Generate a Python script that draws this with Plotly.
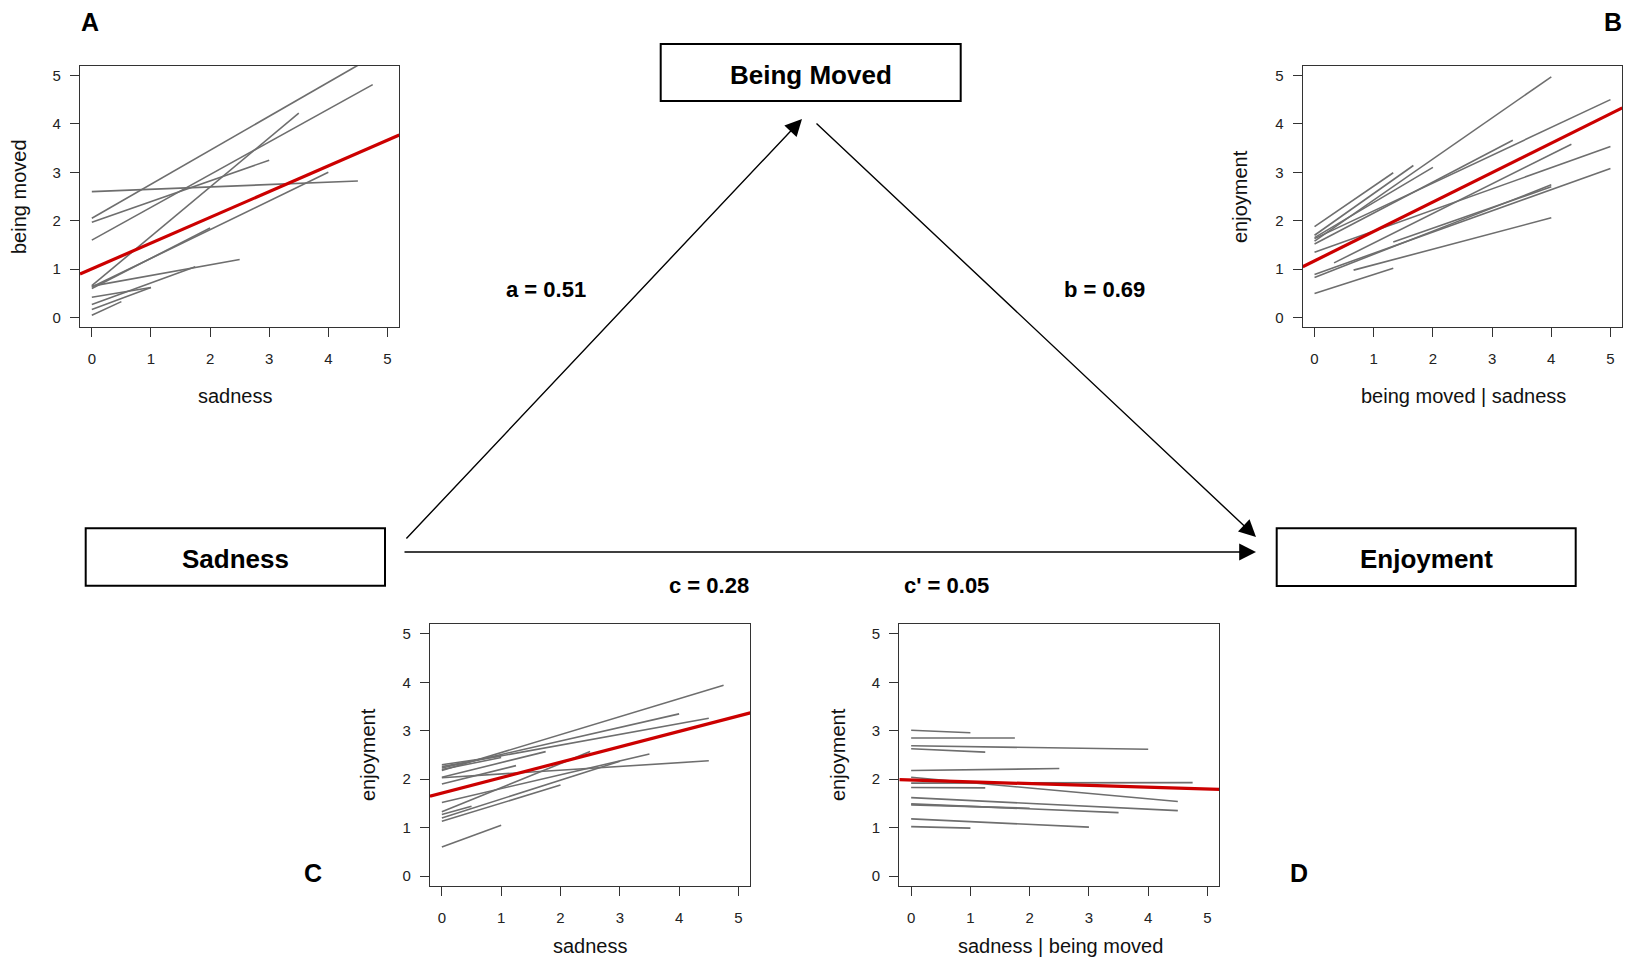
import plotly.graph_objects as go

W, H = 1625, 960
FONT = "Liberation Sans, Arial, Helvetica, sans-serif"

# ---------------- data (segments: x_start, y_start, x_end, y_end) ----------------
a_x0 = [0, 0, 0, 0, 0, 0, 0, 0, 0, 0, 0, 0]
a_y0 = [0.05, 0.17, 0.27, 0.42, 0.65, 0.60, 0.63, 0.66, 2.05, 1.60, 1.97, 2.60]
a_x1 = [0.5, 1.0, 1.75, 1.0, 2.5, 2.0, 4.0, 3.5, 4.5, 4.75, 3.0, 4.5]
a_y1 = [0.33, 0.62, 1.05, 0.62, 1.20, 1.85, 3.00, 4.22, 5.21, 4.81, 3.25, 2.82]
a_red_x = [-0.2, 5.2]
a_red_y = [0.90, 3.77]

b_x0 = [0, 0.66, 0, 0, 1.33, 0.33, 0, 0, 0, 0, 0, 0, 0]
b_y0 = [0.50, 0.98, 0.83, 0.89, 1.56, 1.13, 1.35, 1.52, 1.63, 1.58, 1.65, 1.70, 1.88]
b_x1 = [1.33, 4.0, 4.0, 5.0, 4.0, 4.34, 5.0, 3.35, 5.0, 4.0, 2.0, 1.67, 1.33]
b_y1 = [1.02, 2.06, 2.74, 3.08, 2.70, 3.58, 3.53, 3.66, 4.50, 4.97, 3.10, 3.14, 2.99]
b_red_x = [-0.2, 5.2]
b_red_y = [1.05, 4.33]

c_x0 = [0, 0, 0, 0, 0, 0, 0, 0, 0, 0, 0, 0, 0, 0]
c_y0 = [0.60, 1.13, 1.20, 1.27, 1.33, 1.52, 1.90, 2.03, 2.04, 2.18, 2.23, 2.26, 2.30, 2.20]
c_x1 = [1.0, 2.0, 3.0, 0.5, 2.5, 3.5, 1.25, 4.5, 1.75, 4.75, 4.0, 4.5, 1.0, 1.0]
c_y1 = [1.05, 1.88, 2.37, 1.44, 2.57, 2.52, 2.28, 2.38, 2.57, 3.94, 3.35, 3.26, 2.48, 2.45]
c_red_x = [-0.2, 5.2]
c_red_y = [1.65, 3.37]

d_x0 = [0, 0, 0, 0, 0, 0, 0, 0, 0, 0, 0, 0, 0]
d_y0 = [3.01, 2.85, 2.69, 2.63, 2.18, 1.92, 2.04, 1.83, 1.62, 1.49, 1.47, 1.18, 1.02]
d_x1 = [1.0, 1.75, 4.0, 1.25, 2.5, 4.75, 4.5, 1.25, 4.5, 3.5, 2.0, 3.0, 1.0]
d_y1 = [2.96, 2.85, 2.62, 2.56, 2.22, 1.93, 1.54, 1.82, 1.35, 1.31, 1.40, 1.01, 0.99]
d_red_x = [-0.2, 5.2]
d_red_y = [1.99, 1.79]

tick_vals = [0, 1, 2, 3, 4, 5]
tick_text = ["0", "1", "2", "3", "4", "5"]

path_coefs = ["a = 0.51", "b = 0.69", "c = 0.28", "c' = 0.05"]
node_names = ["Being Moved", "Sadness", "Enjoyment"]
panel_letters = ["A", "B", "C", "D"]
x_titles = ["sadness", "being moved | sadness", "sadness", "sadness | being moved"]
y_titles = ["being moved", "enjoyment", "enjoyment", "enjoyment"]

# ---------------- helpers ----------------
def fx(px):
    return px / W

def fy(py):
    return 1 - py / H

fig = go.Figure()

panels = [
    (a_x0, a_y0, a_x1, a_y1, a_red_x, a_red_y),
    (b_x0, b_y0, b_x1, b_y1, b_red_x, b_red_y),
    (c_x0, c_y0, c_x1, c_y1, c_red_x, c_red_y),
    (d_x0, d_y0, d_x1, d_y1, d_red_x, d_red_y),
]
# pixel boxes (left, right, top, bottom)
boxes = [
    (80, 399.3, 65.7, 327.3),
    (1302.7, 1622.3, 65.7, 327.3),
    (430, 750.3, 624.3, 885.7),
    (899.3, 1219.3, 624.3, 885.7),
]

for i, (x0, y0, x1, y1, rx, ry) in enumerate(panels):
    xs, ys = [], []
    for a, b, c, d in zip(x0, y0, x1, y1):
        xs += [a, c, None]
        ys += [b, d, None]
    sfx = "" if i == 0 else str(i + 1)
    fig.add_trace(go.Scatter(x=xs, y=ys, mode="lines",
                             line=dict(color="#6e6e6e", width=1.6),
                             xaxis="x" + sfx, yaxis="y" + sfx,
                             showlegend=False, hoverinfo="skip"))
    fig.add_trace(go.Scatter(x=rx, y=ry, mode="lines",
                             line=dict(color="#cc0000", width=3.2),
                             xaxis="x" + sfx, yaxis="y" + sfx,
                             showlegend=False, hoverinfo="skip"))
    l, r, t, b_ = boxes[i]
    axcommon = dict(range=[-0.2, 5.2], tickvals=tick_vals, ticktext=tick_text,
                    showgrid=False, zeroline=False, showline=True, mirror=True,
                    linecolor="#333333", linewidth=1.2, ticks="outside", ticklen=9,
                    tickcolor="#333333", tickwidth=1.2,
                    tickfont=dict(family=FONT, size=15, color="#222222"))
    fig.update_layout(**{
        "xaxis" + sfx: dict(domain=[fx(l), fx(r)], anchor="y" + sfx,
                            ticklabelstandoff=9, **axcommon),
        "yaxis" + sfx: dict(domain=[fy(b_), fy(t)], anchor="x" + sfx,
                            ticklabelstandoff=6, **axcommon),
    })

annotations = []
shapes = []

# axis titles (pixel centers)
xt_pos = [(235.5, 396), (1463, 396), (590, 946), (1060, 946)]
yt_pos = [(19, 197), (1240, 197), (368, 755), (838, 755)]
for i in range(4):
    annotations.append(dict(x=fx(xt_pos[i][0]), y=fy(xt_pos[i][1]), xref="paper", yref="paper",
                            text=x_titles[i], showarrow=False, xanchor="center", yanchor="middle",
                            font=dict(family=FONT, size=20, color="#111111")))
    annotations.append(dict(x=fx(yt_pos[i][0]), y=fy(yt_pos[i][1]), xref="paper", yref="paper",
                            text=y_titles[i], showarrow=False, xanchor="center", yanchor="middle",
                            textangle=-90,
                            font=dict(family=FONT, size=20, color="#111111")))

# panel letters
letter_pos = [(90, 22), (1613, 22), (313, 873), (1299, 873)]
for i in range(4):
    annotations.append(dict(x=fx(letter_pos[i][0]), y=fy(letter_pos[i][1]), xref="paper", yref="paper",
                            text="<b>" + panel_letters[i] + "</b>", showarrow=False,
                            xanchor="center", yanchor="middle",
                            font=dict(family=FONT, size=25, color="black")))

# node boxes
node_boxes = [(660.7, 960.7, 44, 101), (85.7, 385, 528.3, 585.7), (1276.7, 1575.7, 528.3, 586)]
for name, (l, r, t, b_) in zip(node_names, node_boxes):
    shapes.append(dict(type="rect", xref="paper", yref="paper",
                       x0=fx(l), x1=fx(r), y0=fy(b_), y1=fy(t),
                       line=dict(color="black", width=2), fillcolor="rgba(0,0,0,0)"))
    annotations.append(dict(x=fx((l + r) / 2), y=fy((t + b_) / 2 + 2), xref="paper", yref="paper",
                            text="<b>" + name + "</b>", showarrow=False,
                            xanchor="center", yanchor="middle",
                            font=dict(family=FONT, size=26, color="black")))

# path coefficients
coef_pos = [(546, 290), (1104, 290), (709, 585), (946, 585)]
for txt, (px, py) in zip(path_coefs, coef_pos):
    annotations.append(dict(x=fx(px), y=fy(py), xref="paper", yref="paper",
                            text="<b>" + txt + "</b>", showarrow=False,
                            xanchor="center", yanchor="middle",
                            font=dict(family=FONT, size=22, color="black")))

# arrows: (tail, head) in pixels
arrows = [((405, 540), (802, 119)), ((815, 122), (1256, 537)), ((403, 552), (1256, 552))]
for (tx, ty), (hx, hy) in arrows:
    annotations.append(dict(x=fx(hx), y=fy(hy), xref="paper", yref="paper",
                            ax=tx - hx, ay=ty - hy, axref="pixel", ayref="pixel",
                            text="", showarrow=True, arrowhead=2, arrowsize=2.4,
                            arrowwidth=1.4, arrowcolor="black"))

fig.update_layout(width=W, height=H, margin=dict(l=0, r=0, t=0, b=0),
                  paper_bgcolor="white", plot_bgcolor="white",
                  annotations=annotations, shapes=shapes,
                  font=dict(family=FONT))

fig.write_html("out.html")
